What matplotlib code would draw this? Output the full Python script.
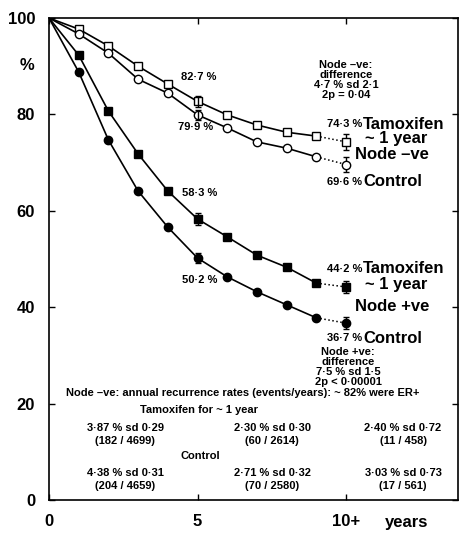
import matplotlib
matplotlib.use("Agg")
import matplotlib.pyplot as plt

plt.rcParams['font.family'] = ['Liberation Sans', 'DejaVu Sans']
plt.rcParams['font.weight'] = 'bold'

# survival (%) by year
years = [0, 1, 2, 3, 4, 5, 6, 7, 8, 9]
neg_tam = [100, 97.7, 94.2, 90.0, 86.3, 82.7, 79.9, 77.8, 76.3, 75.5]
neg_ctl = [100, 96.7, 92.7, 87.3, 84.4, 79.9, 77.2, 74.3, 73.0, 71.2]
pos_tam = [100, 92.3, 80.7, 71.8, 64.1, 58.3, 54.6, 50.8, 48.3, 45.0]
pos_ctl = [100, 88.8, 74.7, 64.1, 56.6, 50.2, 46.3, 43.2, 40.5, 37.8]

# 10+ year values and standard errors
final_year = 10
final_vals = [74.3, 69.6, 44.2, 36.7]
err_5 = [1.1, 1.1, 1.2, 1.1]
err_10 = [1.6, 1.6, 1.3, 1.2]

fig = plt.figure(figsize=(4.59, 5.39), dpi=100)
ax = fig.add_axes([49 / 459, 1 - 500 / 539, 409 / 459, 482 / 539])

series = [
    (neg_tam, 's', 'white'),
    (neg_ctl, 'o', 'white'),
    (pos_tam, 's', 'black'),
    (pos_ctl, 'o', 'black'),
]

for i, (vals, mk, fc) in enumerate(series):
    ax.plot(years, vals, '-', color='black', lw=1.2, zorder=2)
    ax.plot(years[1:], vals[1:], mk, ms=6, mfc=fc, mec='black', mew=1, zorder=3)
    # dotted link to 10+ estimate
    ax.plot([years[-1], final_year], [vals[-1], final_vals[i]], ':', color='black', lw=1.1)
    ax.errorbar([5], [vals[5]], yerr=[err_5[i]], fmt='none', ecolor='black',
                elinewidth=1, capsize=2.5, zorder=4)
    ax.errorbar([final_year], [final_vals[i]], yerr=[err_10[i]], fmt=mk, ms=6,
                mfc=fc, mec='black', mew=1, ecolor='black', elinewidth=1,
                capsize=2.5, zorder=4)

ax.set_xlim(0, 13.77)
ax.set_ylim(0, 100)
ax.set_xticks([0, 5, 10])
ax.set_xticklabels(['0', '5', '10+'])
ax.set_yticks([0, 20, 40, 60, 80, 100])
ax.tick_params(direction='in', length=4, width=1, labelsize=12, top=True, right=True)
ax.tick_params(axis='x', pad=10)
ax.tick_params(axis='y', pad=10)
for s in ax.spines.values():
    s.set_linewidth(1.2)

ax.text(-0.74, 90.2, '%', fontsize=12, ha='center', va='center', clip_on=False)
ax.text(12.05, -4.6, 'years', fontsize=12, ha='center', va='center', clip_on=False)

small = 8
ax.text(5.05, 87.8, '82·7 %', fontsize=small, ha='center', va='center')
ax.text(4.95, 77.4, '79·9 %', fontsize=small, ha='center', va='center')
ax.text(5.08, 63.7, '58·3 %', fontsize=small, ha='center', va='center')
ax.text(5.08, 45.6, '50·2 %', fontsize=small, ha='center', va='center')

ax.text(10.0, 87.1, 'Node –ve:\ndifference\n4·7 % sd 2·1\n2p = 0·04', fontsize=small,
        ha='center', va='center', linespacing=1.0)
ax.text(10.07, 27.6, 'Node +ve:\ndifference\n7·5 % sd 1·5\n2p < 0·00001', fontsize=small,
        ha='center', va='center', linespacing=1.0)

big = 12
ax.text(10.54, 78.0, '74·3 %', fontsize=small, ha='right', va='center')
ax.text(10.57, 78.0, 'Tamoxifen', fontsize=big, ha='left', va='center')
ax.text(11.68, 75.1, '~ 1 year', fontsize=big, ha='center', va='center')
ax.text(11.55, 71.6, 'Node –ve', fontsize=big, ha='center', va='center')
ax.text(10.54, 66.0, '69·6 %', fontsize=small, ha='right', va='center')
ax.text(10.57, 66.0, 'Control', fontsize=big, ha='left', va='center')

ax.text(10.54, 48.0, '44·2 %', fontsize=small, ha='right', va='center')
ax.text(10.57, 48.0, 'Tamoxifen', fontsize=big, ha='left', va='center')
ax.text(11.68, 44.8, '~ 1 year', fontsize=big, ha='center', va='center')
ax.text(11.55, 40.2, 'Node +ve', fontsize=big, ha='center', va='center')
ax.text(10.54, 33.6, '36·7 %', fontsize=small, ha='right', va='center')
ax.text(10.57, 33.6, 'Control', fontsize=big, ha='left', va='center')

# annual recurrence rate table
ax.text(6.53, 22.2, 'Node –ve: annual recurrence rates (events/years): ~ 82% were ER+',
        fontsize=small, ha='center', va='center')
ax.text(5.05, 18.7, 'Tamoxifen for ~ 1 year', fontsize=small, ha='center', va='center')
ax.text(5.08, 9.1, 'Control', fontsize=small, ha='center', va='center')

col_x = [2.56, 7.51, 11.92]
tam_rates = ['3·87 % sd 0·29', '2·30 % sd 0·30', '2·40 % sd 0·72']
tam_counts = ['(182 / 4699)', '(60 / 2614)', '(11 / 458)']
ctl_rates = ['4·38 % sd 0·31', '2·71 % sd 0·32', '3·03 % sd 0·73']
ctl_counts = ['(204 / 4659)', '(70 / 2580)', '(17 / 561)']
for x, a, b, c, d in zip(col_x, tam_rates, tam_counts, ctl_rates, ctl_counts):
    ax.text(x, 15.0, a, fontsize=small, ha='center', va='center')
    ax.text(x, 12.3, b, fontsize=small, ha='center', va='center')
    ax.text(x, 5.7, c, fontsize=small, ha='center', va='center')
    ax.text(x, 3.0, d, fontsize=small, ha='center', va='center')

fig.savefig('out.png', dpi=100)
